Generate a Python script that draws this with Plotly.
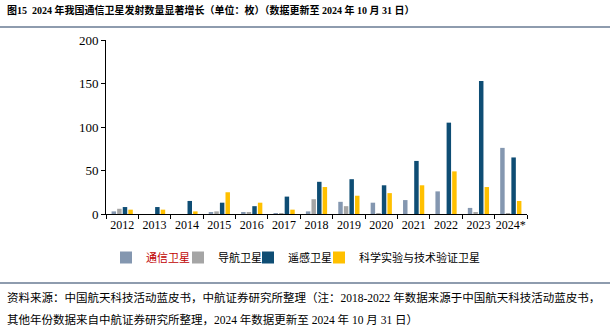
import plotly.graph_objects as go

years = ["2012", "2013", "2014", "2015", "2016", "2017", "2018", "2019", "2020", "2021", "2022", "2023", "2024*"]
comm = [3, 0, 0, 2, 2, 1, 3, 14, 13, 16, 26, 7, 76]
nav = [6, 0, 0, 3, 2, 1, 17, 9, 1, 0, 0, 2, 1]
remote = [8, 8, 15, 13, 9, 20, 37, 40, 33, 61, 105, 153, 65]
sci = [5, 5, 3, 25, 13, 5, 31, 21, 24, 33, 49, 31, 15]

names = ["<span style='color:#C00000'>通信卫星</span>", "导航卫星", "遥感卫星", "科学实验与技术验证卫星"]
colors = ["#8497B0", "#A5A5A5", "#0E4D74", "#FFC000"]
legend_ids = ["legend", "legend2", "legend3", "legend4"]
legend_text_x = [146, 218, 288, 359]

FONT = "Liberation Serif, Noto Sans CJK SC"

fig = go.Figure()
for n, c, v, lg in zip(names, colors, [comm, nav, remote, sci], legend_ids):
    fig.add_trace(go.Bar(x=years, y=v, name=n, legend=lg,
                         marker=dict(color=c, line=dict(width=0))))

W, H = 616, 333
L, R, T, B = 106, 89, 40, 119
pw, ph = W - L - R, H - T - B

def px(x):
    return (x - L) / pw

def py(y):
    return (H - B - y) / ph

legends = {}
for lg, tx in zip(legend_ids, legend_text_x):
    legends[lg] = dict(orientation="h", x=px(tx - 40), xanchor="left", y=py(243), yanchor="top",
                       font=dict(size=11, family=FONT), itemwidth=30,
                       bgcolor="rgba(0,0,0,0)", borderwidth=0)

fig.update_layout(
    width=W, height=H,
    margin=dict(l=L, r=R, t=T, b=B),
    paper_bgcolor="white", plot_bgcolor="white",
    font=dict(family=FONT, size=12, color="#000000"),
    barmode="group", bargap=0.31, bargroupgap=0.2,
    showlegend=True,
    xaxis=dict(showline=True, linecolor="#000000", linewidth=1, ticks="outside",
               tickson="boundaries", ticklen=4, tickcolor="#000000", tickangle=0,
               tickfont=dict(size=12, family=FONT), showgrid=False),
    yaxis=dict(range=[0, 200], dtick=50, showline=True, linecolor="#000000", linewidth=1,
               ticks="outside", ticklen=4, tickcolor="#000000", showgrid=False,
               zeroline=False, tickfont=dict(size=13, family=FONT)),
    shapes=[
        dict(type="line", xref="paper", yref="paper", x0=px(0), x1=px(610), y0=py(27), y1=py(27),
             line=dict(color="#1F3A5F", width=1.2)),
        dict(type="line", xref="paper", yref="paper", x0=px(0), x1=px(610), y0=py(283), y1=py(283),
             line=dict(color="#1F3A5F", width=1.2)),
    ],
    annotations=[
        dict(text="<b>图15  2024 年我国通信卫星发射数量显著增长（单位：枚）（数据更新至 2024 年 10 月 31 日）</b>",
             xref="paper", yref="paper", x=px(5), y=py(10), xanchor="left", yanchor="middle",
             showarrow=False, font=dict(size=10, family=FONT)),
        dict(text="资料来源：中国航天科技活动蓝皮书，中航证券研究所整理（注：2018-2022 年数据来源于中国航天科技活动蓝皮书，",
             xref="paper", yref="paper", x=px(5), y=py(297), xanchor="left", yanchor="middle",
             showarrow=False, font=dict(size=11.5, family=FONT)),
        dict(text="其他年份数据来自中航证券研究所整理，2024 年数据更新至 2024 年 10 月 31 日）",
             xref="paper", yref="paper", x=px(5), y=py(319), xanchor="left", yanchor="middle",
             showarrow=False, font=dict(size=11.5, family=FONT)),
    ],
    **legends,
)

fig.write_html("out.html")
